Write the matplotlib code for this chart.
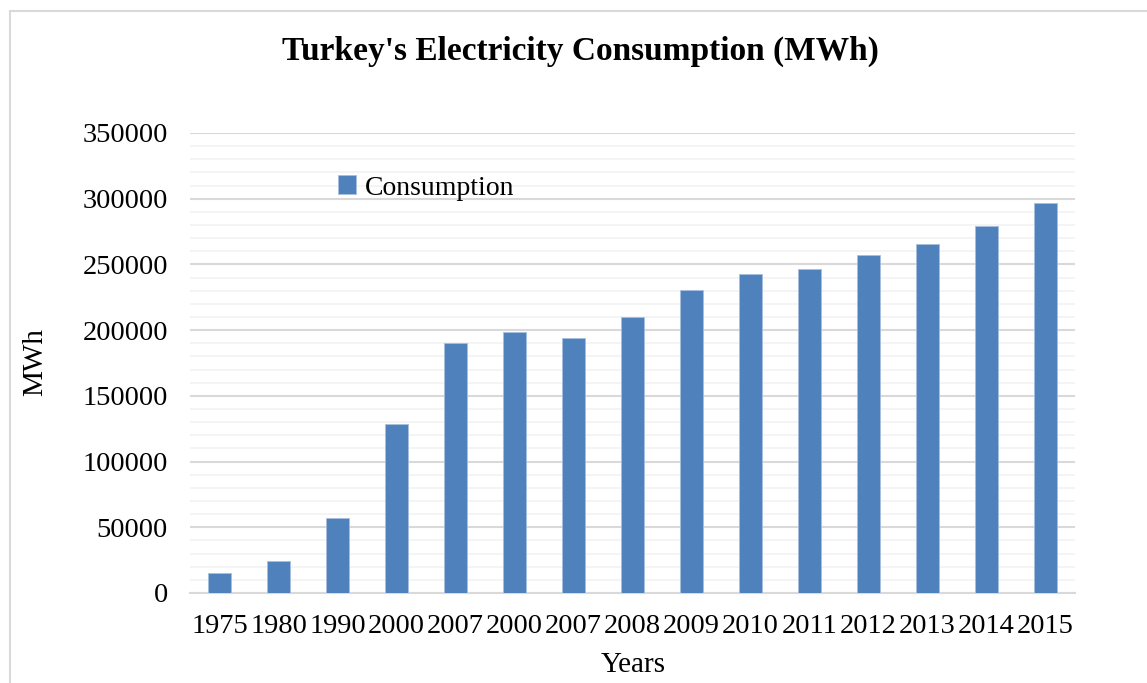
import matplotlib
matplotlib.use("Agg")
import matplotlib.pyplot as plt
from matplotlib.patches import Rectangle
from matplotlib.ticker import MultipleLocator
import numpy as np

years = ["1975", "1980", "1990", "2000", "2007", "2000", "2007", "2008",
         "2009", "2010", "2011", "2012", "2013", "2014", "2015"]
consumption = [15400, 24600, 56800, 128300, 190000, 198400, 194000, 210200,
               230300, 242500, 246300, 257200, 265800, 279200, 296700]

plt.rcParams["font.family"] = ["Liberation Serif", "DejaVu Serif"]

W, H = 1147, 683
fig = plt.figure(figsize=(W / 100, H / 100), dpi=100)

# light chart border
fig.patches.append(Rectangle((10 / W, -0.1), 1.2, 1 - 11 / H + 0.1,
                             transform=fig.transFigure, fill=False,
                             edgecolor="#D9D9D9", linewidth=1.5))

ax = fig.add_axes([190 / W, 1 - 593 / H, (1075 - 190) / W, (593 - 133) / H])
x = np.arange(len(years))
ax.bar(x, consumption, width=0.4, color="#4F81BD", edgecolor="#A7BFDE",
       linewidth=0.6, label="Consumption", zorder=3)

ax.set_xlim(-0.5, len(years) - 0.5)
ax.set_ylim(0, 350000)
ax.yaxis.set_major_locator(MultipleLocator(50000))
ax.yaxis.set_minor_locator(MultipleLocator(10000))
ax.grid(axis="y", which="minor", color="#F2F2F2", linewidth=1.2, zorder=0)
ax.grid(axis="y", which="major", color="#D9D9D9", linewidth=1.5, zorder=1)

ax.set_xticks(x)
ax.set_xticklabels(years)
ax.tick_params(axis="both", which="both", length=0, labelsize=20.5)
ax.tick_params(axis="y", pad=16)
ax.tick_params(axis="x", pad=15)
for s in ["top", "right", "left"]:
    ax.spines[s].set_visible(False)
ax.spines["bottom"].set_color("#D9D9D9")
ax.spines["bottom"].set_linewidth(1.5)

fig.text(580 / W, 1 - 51 / H, "Turkey's Electricity Consumption (MWh)",
         ha="center", va="center", fontsize=24, fontweight="bold")
fig.text(35 / W, 1 - 362 / H, "MWh", ha="center", va="center",
         rotation=90, fontsize=21)
fig.text(633 / W, 1 - 665 / H, "Years", ha="center", va="center", fontsize=21)

fig.legend(loc="center left", bbox_to_anchor=(338 / W, 1 - 188 / H),
           frameon=False, fontsize=20, borderpad=0, borderaxespad=0,
           handlelength=0.65, handleheight=0.65, handletextpad=0.3)

fig.savefig("out.png", dpi=100)
